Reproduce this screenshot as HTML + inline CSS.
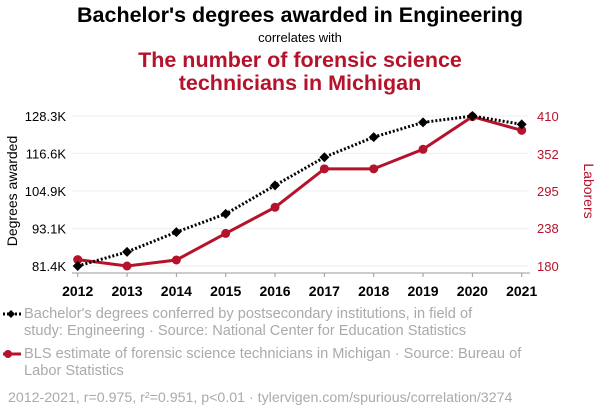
<!DOCTYPE html>
<html><head><meta charset="utf-8"><style>
body{margin:0;background:#fff;width:600px;height:414px;overflow:hidden;font-family:"Liberation Sans",sans-serif}
svg{display:block}
</style></head><body>
<svg id="c" width="600" height="414">
<text x="300" y="22" text-anchor="middle" font-size="21.5" font-weight="bold" fill="#000">Bachelor's degrees awarded in Engineering</text>
<text x="300" y="42" text-anchor="middle" font-size="13" fill="#000">correlates with</text>
<text x="300" y="67" text-anchor="middle" font-size="21.5" font-weight="bold" fill="#b5132b">The number of forensic science</text>
<text x="300" y="90" text-anchor="middle" font-size="21.5" font-weight="bold" fill="#b5132b">technicians in Michigan</text>
<text transform="translate(17,191) rotate(-90)" text-anchor="middle" font-size="14" fill="#000">Degrees awarded</text>
<text transform="translate(584,191) rotate(90)" text-anchor="middle" font-size="14" fill="#b5132b">Laborers</text>
<g id="grid"></g><g id="axes"></g><g id="marks"></g>
<g>
<line x1="3" y1="314" x2="21" y2="314" stroke="#000" stroke-width="3" stroke-dasharray="2,2"/>
<path d="M7,314 l4,-4 l4,4 l-4,4z" fill="#000"/>
<text x="24" y="318" font-size="14.6" fill="#aaa">Bachelor's degrees conferred by postsecondary institutions, in field of</text>
<text x="24" y="335" font-size="14.6" fill="#aaa">study: Engineering · Source: National Center for Education Statistics</text>
</g>
<g>
<line x1="3" y1="354" x2="21" y2="354" stroke="#b5132b" stroke-width="3"/>
<circle cx="8" cy="354" r="4" fill="#b5132b"/>
<text x="24" y="358" font-size="14.6" fill="#aaa">BLS estimate of forensic science technicians in Michigan · Source: Bureau of</text>
<text x="24" y="375" font-size="14.6" fill="#aaa">Labor Statistics</text>
</g>
<text x="8" y="402" font-size="14.2" fill="#aaa">2012-2021, r=0.975, r²=0.951, p&lt;0.01 · tylervigen.com/spurious/correlation/3274</text>
</svg>
<script>
const years=[2012,2013,2014,2015,2016,2017,2018,2019,2020,2021];
const degrees=[81.4,85.8,92.0,97.7,106.6,115.4,121.7,126.3,128.3,125.7];
const laborers=[189.8,180,189.2,230,270,329,329,359,409,388];
const leftTicks=[81.4,93.1,104.9,116.6,128.3];
const leftTickLabels=["81.4K","93.1K","104.9K","116.6K","128.3K"];
const rightTicks=[180,238,295,352,410];
const NS="http://www.w3.org/2000/svg";
const x=i=>77.7+(521.7-77.7)*(years[i]-years[0])/(years[years.length-1]-years[0]);
const yL=v=>266-(v-81.4)/(128.3-81.4)*150;
const yR=v=>266-(v-180)/(410-180)*150;
function mk(t,a,p){const e=document.createElementNS(NS,t);for(const k in a)e.setAttribute(k,a[k]);p.appendChild(e);return e;}
const grid=document.getElementById('grid'),axes=document.getElementById('axes'),marks=document.getElementById('marks');
leftTicks.forEach((v,i)=>{
 const g=mk('line',{x1:72,x2:528,y1:yL(v),y2:yL(v),stroke:'#eee','stroke-width':1},grid);
 
 
 const t=mk('text',{x:66,y:yL(v)+5,'text-anchor':'end','font-size':13,fill:'#000'},axes);
 t.textContent=leftTickLabels[i];
 
 
});
rightTicks.forEach(v=>{
 const t=mk('text',{x:537,y:yR(v)+5,'font-size':13,fill:'#b5132b'},axes);
 t.textContent=v;
 
 
});
mk('line',{x1:72,x2:530,y1:273,y2:273,stroke:'#999'},axes);
years.forEach((yr,i)=>{
 mk('line',{x1:x(i),x2:x(i),y1:273,y2:277,stroke:'#999'},axes);
 const t=mk('text',{x:x(i),y:296,'text-anchor':'middle','font-size':14,'font-weight':'bold',fill:'#000'},axes);
 t.textContent=yr;
 
 
});
const rl=mk('polyline',{points:laborers.map((v,i)=>x(i)+','+yR(v)).join(' '),fill:'none',stroke:'#b5132b','stroke-width':3},marks);


laborers.forEach((v,i)=>{
 const c=mk('circle',{cx:x(i),cy:yR(v),r:4.5,fill:'#b5132b'},marks);
 
 
});
const bl=mk('polyline',{points:degrees.map((v,i)=>x(i)+','+yL(v)).join(' '),fill:'none',stroke:'#000','stroke-width':3,'stroke-dasharray':'2,2'},marks);


degrees.forEach((v,i)=>{
 const px=x(i),py=yL(v);
 const d=mk('path',{d:`M${px-5},${py} L${px},${py-5} L${px+5},${py} L${px},${py+5}Z`,fill:'#000'},marks);
 
 
});
</script>
</body></html>
